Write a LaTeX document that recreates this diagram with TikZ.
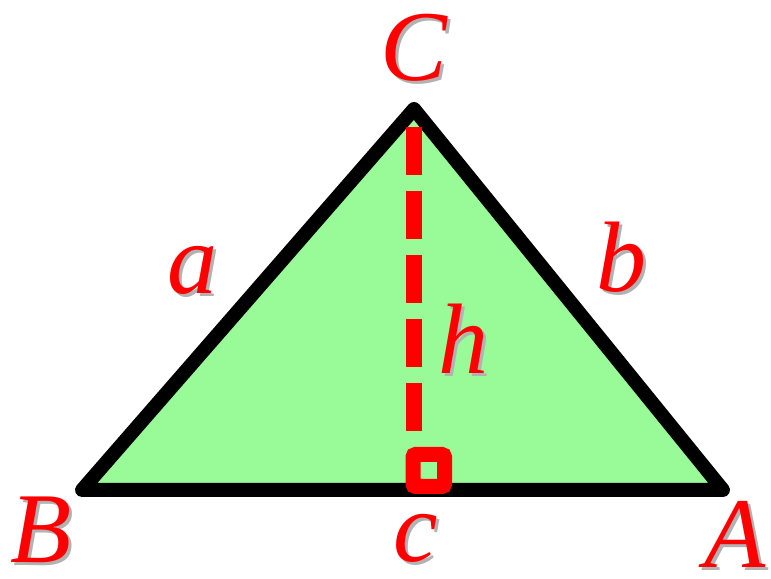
\documentclass[tikz,border=0pt]{standalone}
\usepackage{fontspec}
\setmainfont{Liberation Serif}
\usetikzlibrary{positioning,calc}
\definecolor{triGreen}{RGB}{152,251,152}
\definecolor{triRed}{RGB}{255,0,0}
\newcommand{\trimark}[3]{%
  \node[lbl, text=black!30, anchor=base] at ($(#2)+(0.06,-0.06)$) {#3};
  \node[lbl, anchor=base] (#1) at (#2) {#3};}

\begin{document}
\begin{tikzpicture}[
    lbl/.style={font=\fontsize{57}{60}\selectfont\itshape, text=triRed, inner sep=0pt},
    side/.style={draw=black, line width=0.28cm, line join=round, fill=triGreen},
    height/.style={draw=triRed, line width=0.32cm, dash pattern=on 0.96cm off 0.32cm},
    rightangle/.style={draw=triRed, line width=0.3cm, rounded corners=1.5pt}
  ]
  \useasboundingbox (0,0) rectangle (15.42,11.58);
  % vertices
  \coordinate (B) at (1.64,1.78);
  \coordinate (A) at (14.46,1.78);
  \coordinate (C) at (8.28,9.40);
  \coordinate (top) at (8.28,9.04);
  \coordinate (foot) at (8.28,2.96);
  % triangle
  \draw[side] (B) -- (A) -- (C) -- cycle;
  % altitude
  \draw[height] (top) -- (foot);
  \draw[rightangle] (8.26,1.85) rectangle (8.89,2.49);
  % labels
  \trimark{labC}{8.28,9.96}{C}
  \trimark{laba}{3.86,5.70}{a}
  \trimark{labb}{12.44,5.74}{b}
  \trimark{labh}{9.28,4.10}{h}
  \trimark{labB}{0.82,0.32}{B}
  \trimark{labc}{8.32,0.34}{c}
  \trimark{labA}{14.70,0.22}{A}
\end{tikzpicture}
\end{document}
